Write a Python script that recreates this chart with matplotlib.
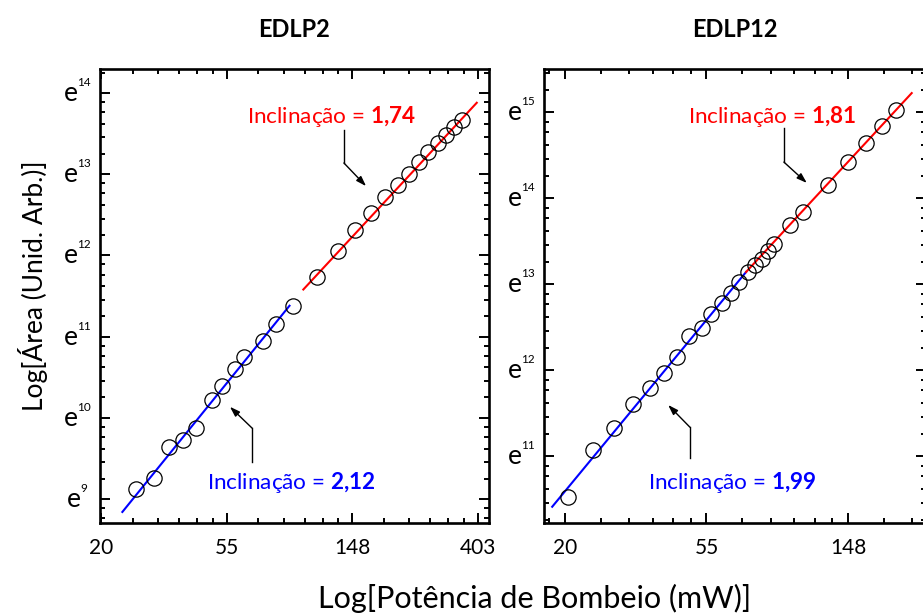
import matplotlib
matplotlib.use('Agg')
import matplotlib.pyplot as plt
import matplotlib.ticker as mticker
from matplotlib.transforms import offset_copy
import numpy as np

plt.rcParams['font.family'] = ['Lato', 'DejaVu Sans']
plt.rcParams['mathtext.fontset'] = 'custom'
plt.rcParams['mathtext.rm'] = 'Lato'
plt.rcParams['mathtext.it'] = 'Lato:italic'
plt.rcParams['mathtext.bf'] = 'Lato:bold'

# values, natural log of power (mW) and of area
edlp2_x = [3.28, 3.42, 3.54, 3.655, 3.755, 3.885, 3.96, 4.07, 4.135, 4.29, 4.39, 4.53,
           4.72, 4.885, 5.02, 5.15, 5.26, 5.36, 5.45, 5.53, 5.605, 5.68, 5.745, 5.81, 5.87]
edlp2_y = [9.12, 9.26, 9.64, 9.73, 9.87, 10.22, 10.39, 10.60, 10.75, 10.95, 11.16, 11.38,
           11.73, 12.06, 12.31, 12.52, 12.72, 12.87, 13.00, 13.15, 13.27, 13.38, 13.48, 13.58, 13.67]
edlp12_x = [3.02, 3.20, 3.35, 3.48, 3.60, 3.70, 3.79, 3.88, 3.965, 4.035, 4.107, 4.17, 4.23,
            4.29, 4.34, 4.39, 4.437, 4.48, 4.59, 4.68, 4.86, 5.00, 5.13, 5.24, 5.34]
edlp12_y = [10.52, 11.07, 11.33, 11.61, 11.79, 11.96, 12.15, 12.40, 12.49, 12.65, 12.78, 12.90, 13.02,
            13.14, 13.22, 13.29, 13.38, 13.47, 13.69, 13.84, 14.15, 14.42, 14.64, 14.84, 15.02]

# fitted lines (end points, ln units)
edlp2_blue_fit = ([3.17, 4.50], [8.84, 11.38])
edlp2_red_fit = ([4.61, 5.99], [11.58, 13.88])
edlp12_blue_fit = ([2.91, 4.28], [10.41, 13.14])
edlp12_red_fit = ([4.28, 5.45], [13.14, 15.22])

titles = ['EDLP2', 'EDLP12']
slopes_red = ['1{,}74', '1{,}81']
slopes_blue = ['2{,}12', '1{,}99']
x_major = [3, 4, 5, 6]
y_major = [9, 10, 11, 12, 13, 14, 15]

fig = plt.figure(figsize=(9.23, 6.14), dpi=100)
ax1 = fig.add_axes([100/923, 91/614, 389/923, 454/614])
ax2 = fig.add_axes([544/923, 91/614, 382/923, 454/614])

panels = [
  (ax1, edlp2_x, edlp2_y, edlp2_blue_fit, edlp2_red_fit, (2.992, 6.0875), (8.704, 14.296)),
  (ax2, edlp12_x, edlp12_y, edlp12_blue_fit, edlp12_red_fit, (2.852, 5.551), (10.221, 15.5)),
]

minor_subs = [1 + k * (np.e - 1) / 6 for k in range(1, 6)]

def e_labels(ax, ylim):
  base = ax.get_yaxis_transform()
  for n in y_major:
    if not (ylim[0] <= n <= ylim[1]):
      continue
    nd = len(str(n))
    total = 12 + 2 + 6.5 * nd
    left = -23 - total / 2
    t = offset_copy(base, fig=fig, x=left, y=-8, units='dots')
    ax.text(0, np.exp(n), 'e', transform=t, fontsize=19, ha='left', va='baseline')
    t = offset_copy(base, fig=fig, x=left + 14, y=7, units='dots')
    ax.text(0, np.exp(n), str(n), transform=t, fontsize=8.5, ha='left', va='baseline')

def slope_note(ax, pos, value, color, start, corner, end):
  ax.text(pos[0], pos[1], 'Inclinação = $\\mathbf{' + value + '}$', transform=ax.transAxes,
          color=color, fontsize=16.2, va='baseline', ha='left')
  ax.plot([start[0], corner[0]], [start[1], corner[1]], color='k', lw=1, transform=ax.transAxes)
  ax.annotate('', xy=end, xytext=corner, xycoords='axes fraction',
              arrowprops=dict(arrowstyle='-|>,head_length=0.6,head_width=0.2', color='k',
                              lw=1, shrinkA=0, shrinkB=0))

for i, (ax, xs, ys, bfit, rfit, xlim, ylim) in enumerate(panels):
  ax.set_xscale('log', base=np.e)
  ax.set_yscale('log', base=np.e)
  ax.plot(np.exp(bfit[0]), np.exp(bfit[1]), color='#0000ff', lw=1.5)
  ax.plot(np.exp(rfit[0]), np.exp(rfit[1]), color='#ff0000', lw=1.5)
  ax.plot(np.exp(xs), np.exp(ys), 'o', ms=11, mfc='none', mec='black', mew=0.9)
  ax.set_xlim(np.exp(xlim[0]), np.exp(xlim[1]))
  ax.set_ylim(np.exp(ylim[0]), np.exp(ylim[1]))

  ax.xaxis.set_major_locator(mticker.FixedLocator(np.exp(x_major)))
  ax.xaxis.set_minor_locator(mticker.LogLocator(base=np.e, subs=minor_subs, numticks=30))
  ax.xaxis.set_major_formatter(mticker.FuncFormatter(lambda v, p: f'{v:.0f}'))
  ax.xaxis.set_minor_formatter(mticker.NullFormatter())
  ax.yaxis.set_major_locator(mticker.FixedLocator(np.exp(y_major)))
  ax.yaxis.set_minor_locator(mticker.LogLocator(base=np.e, subs=minor_subs, numticks=30))
  ax.yaxis.set_major_formatter(mticker.NullFormatter())
  ax.yaxis.set_minor_formatter(mticker.NullFormatter())

  ax.tick_params(which='both', direction='in', top=True, right=True, width=1.4)
  ax.tick_params(which='major', length=7.5)
  ax.tick_params(which='minor', length=3.5)
  ax.tick_params(axis='x', labelsize=15, pad=10.5)
  for s in ax.spines.values():
    s.set_linewidth(1.9)

  ax.set_title(titles[i], fontsize=17, fontweight='bold', pad=23)
  e_labels(ax, ylim)

slope_note(ax1, (0.377, 0.882), slopes_red[0], '#ff0000', (0.627, 0.866), (0.627, 0.793), (0.684, 0.742))
slope_note(ax1, (0.275, 0.075), slopes_blue[0], '#0000ff', (0.391, 0.134), (0.391, 0.209), (0.334, 0.256))
slope_note(ax2, (0.378, 0.882), slopes_red[1], '#ff0000', (0.628, 0.870), (0.628, 0.795), (0.688, 0.749))
slope_note(ax2, (0.273, 0.075), slopes_blue[1], '#0000ff', (0.382, 0.143), (0.382, 0.211), (0.325, 0.260))

fig.text(0.036, 0.535, 'Log[Área (Unid. Arb.)]', rotation=90, fontsize=19, ha='center', va='center')
fig.text(535/923, 0.025, 'Log[Potência de Bombeio (mW)]', fontsize=22, ha='center', va='center')

fig.savefig('out.png', dpi=100)
